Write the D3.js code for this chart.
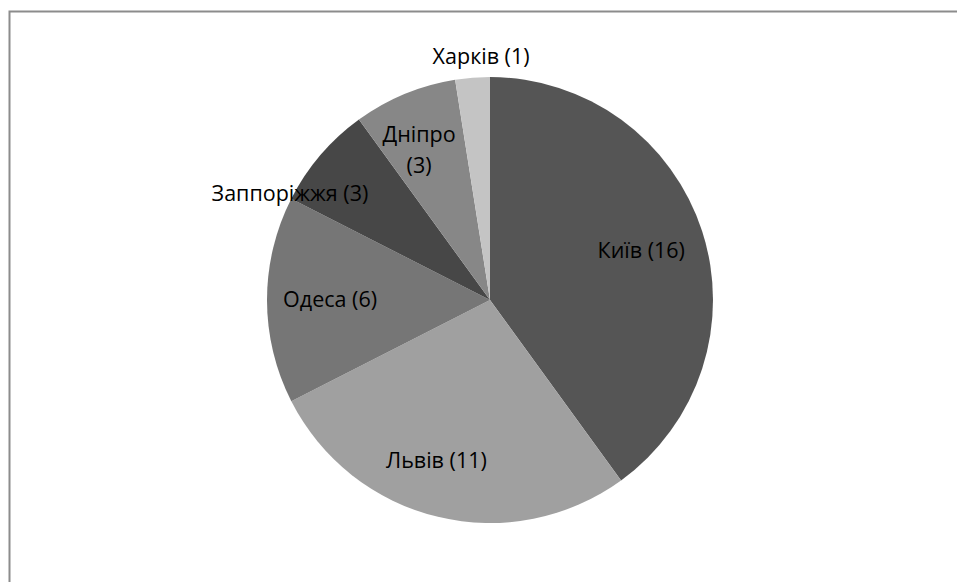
<!DOCTYPE html>
<html>
<head>
<meta charset="utf-8">
<script src="https://cdn.jsdelivr.net/npm/d3@7"></script>
<style>
  html, body { margin: 0; padding: 0; background: #fff; }
  svg { display: block; }
</style>
</head>
<body>
<svg id="chart" width="957" height="582"></svg>
<script>
// Cities and number of entries per city
const cities = ["Київ", "Львів", "Одеса", "Заппоріжжя", "Дніпро", "Харків"];
const counts = [16, 11, 6, 3, 3, 1];
const sliceColors = ["#555555", "#a0a0a0", "#767676", "#474747", "#878787", "#c4c4c4"];

// Label placement: polar angle (deg, clockwise from top) and radius fraction
const labelAngle = [72, 198.4, 270, 297.9, 334.4, 357.9];
const labelRadius = [0.713, 0.761, 0.717, 1.015, 0.736, 1.09];
// Labels that wrap onto two lines
const labelWrap = [false, false, false, false, true, false];

const svg = d3.select("#chart");
const cx = 490, cy = 300, R = 223;

// outer frame
svg.append("rect")
  .attr("x", 9.5).attr("y", 11.5)
  .attr("width", 1000).attr("height", 1000)
  .attr("fill", "none")
  .attr("stroke", "#8c8c8c")
  .attr("stroke-width", 2);

const data = cities.map((c, i) => ({ city: c, value: counts[i], i }));

const pie = d3.pie().value(d => d.value).sort(null);
const arc = d3.arc().innerRadius(0).outerRadius(R);

const g = svg.append("g").attr("transform", `translate(${cx},${cy})`);

g.selectAll("path.slice")
  .data(pie(data))
  .join("path")
  .attr("class", "slice")
  .attr("d", arc)
  .attr("fill", d => sliceColors[d.data.i]);

const labels = g.selectAll("text.lbl")
  .data(pie(data))
  .join("text")
  .attr("class", "lbl")
  .attr("text-anchor", "middle")
  .attr("font-family", "'Open Sans', 'Noto Sans', sans-serif")
  .attr("font-size", 21.5)
  .attr("fill", "#000")
  .attr("transform", d => {
    const a = labelAngle[d.data.i] * Math.PI / 180;
    const r = labelRadius[d.data.i] * R;
    return `translate(${r * Math.sin(a)},${-r * Math.cos(a)})`;
  });

labels.each(function(d) {
  const t = d3.select(this);
  if (labelWrap[d.data.i]) {
    t.append("tspan").attr("x", 0).attr("dy", "-0.45em").text(d.data.city);
    t.append("tspan").attr("x", 0).attr("dy", "1.43em").text(`(${d.data.value})`);
  } else {
    t.append("tspan").attr("x", 0).attr("dy", "0.33em").text(`${d.data.city} (${d.data.value})`);
  }
});
</script>
</body>
</html>
